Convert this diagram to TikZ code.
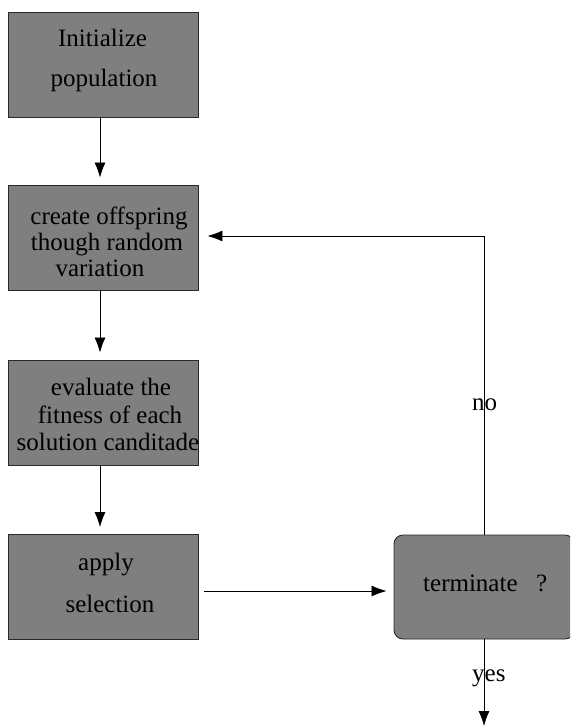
\documentclass[tikz,border=0pt]{standalone}
\usepackage{fontspec}
\setmainfont{Liberation Serif}
\usetikzlibrary{arrows.meta}
\definecolor{boxfill}{HTML}{7F7F7F}
\definecolor{boxline}{HTML}{2A2A2A}
\tikzset{
  stepbox/.style={draw=boxline, fill=boxfill, line width=0.9pt,
    minimum width=190pt, minimum height=105pt, inner sep=0pt},
  decisionbox/.style={stepbox, rounded corners=9pt, minimum width=180pt, minimum height=104pt},
  txt/.style={anchor=base, inner sep=0pt, font=\rmfamily\fontsize{25}{28}\selectfont},
  flow/.style={line width=0.8pt, -{Latex[length=15pt,width=11pt]}},
}
\begin{document}
\begin{tikzpicture}[x=1pt,y=-1pt]
  \useasboundingbox (0,0) rectangle (570,727);
  \clip (0,0) rectangle (570,727);

  % process steps
  \node[stepbox] (init) at (103,64.5) {};
  \node[stepbox] (offs) at (103,237.5) {};
  \node[stepbox] (eval) at (103,412.5) {};
  \node[stepbox] (sel)  at (103,587) {};
  \node[decisionbox] (term) at (484,587) {};

  % step labels
  \node[txt] (t1a) at (102.5,47) {Initialize};
  \node[txt] (t1b) at (104,87) {population};
  \node[txt] (t2a) at (109,224) {create offspring};
  \node[txt] (t2b) at (107,250) {though random};
  \node[txt] (t2c) at (100,276) {variation};
  \node[txt] (t3a) at (111,395) {evaluate the};
  \node[txt] (t3b) at (110,423) {fitness of each};
  \node[txt] (t3c) at (108,450) {solution canditade};
  \node[txt] (t4a) at (106,570) {apply};
  \node[txt] (t4b) at (110,612) {selection};
  \node[txt,anchor=base west] (t5a) at (423,591) {terminate};
  \node[txt,anchor=base west] (t5b) at (536,591) {?};

  % connectors
  \coordinate (corner) at (484,236);
  \coordinate (out) at (484,726);
  \draw[flow, shorten >=7pt] (init.south -| 100,0) -- (offs.north -| 100,0);
  \draw[flow, shorten >=7pt] (offs.south -| 100,0) -- (eval.north -| 100,0);
  \draw[flow, shorten >=7pt] (eval.south -| 100,0) -- (sel.north -| 100,0);
  \draw[flow, shorten <=6pt, shorten >=7pt] (sel.east |- 0,591) -- (term.west |- 0,591);
  \draw[flow, shorten >=9pt] (term.north) -- (corner) -- (offs.east |- corner);
  \draw[flow] (term.south) -- (out);

  % branch labels
  \node[txt,anchor=base west] (no) at (472,410) {no};
  \node[txt,anchor=base west] (yes) at (472,681) {yes};
\end{tikzpicture}
\end{document}
